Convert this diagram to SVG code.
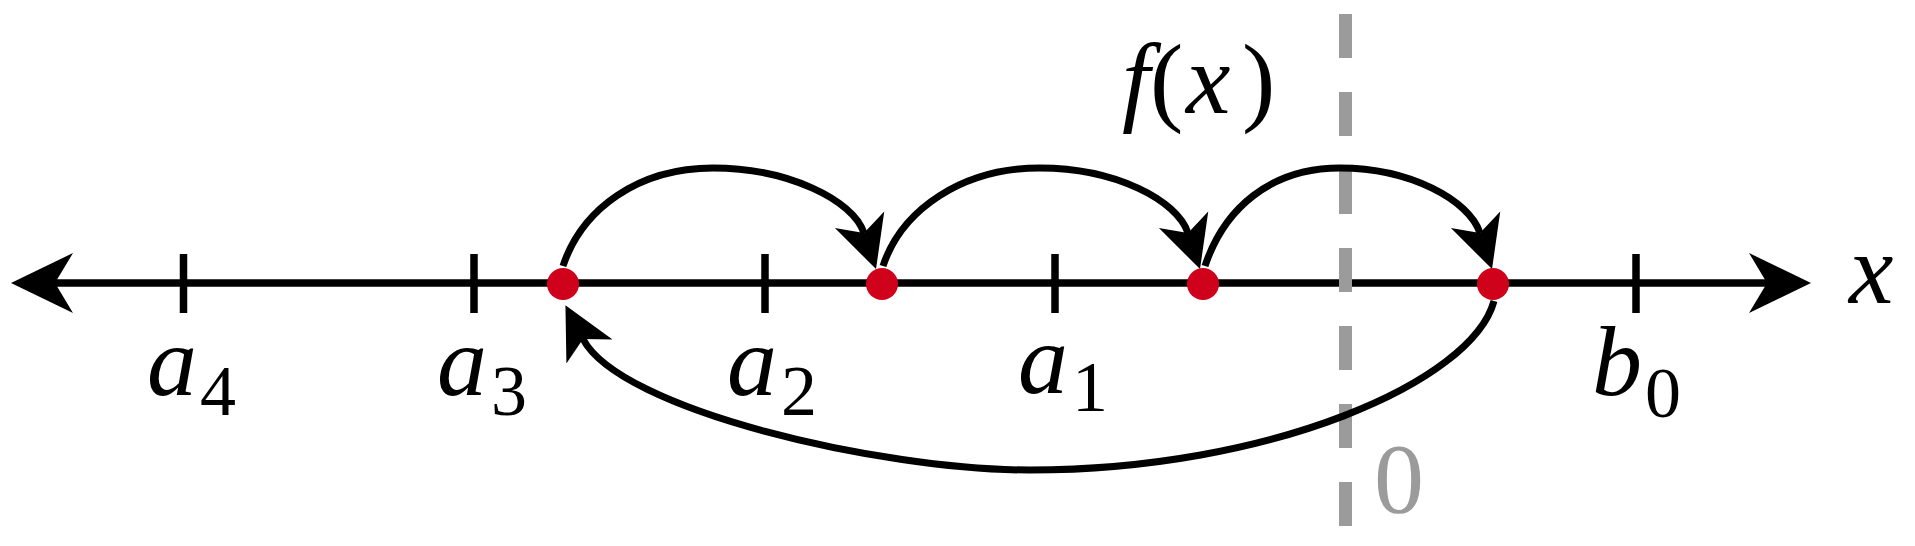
<svg xmlns="http://www.w3.org/2000/svg" width="1915" height="546" viewBox="0 0 1915 546">
<style>
.ax{stroke:#000;stroke-width:7.5;fill:none}
.tk{stroke:#000;stroke-width:7.5}
.cv{stroke:#000;stroke-width:7;fill:none}
.zl{stroke:#9b9b9b;stroke-width:13;stroke-dasharray:44 34}
.dot{fill:#d0011b}
.m{font-family:"Liberation Serif","DejaVu Serif",serif;font-size:100px;font-style:italic;fill:#000}
.s{font-size:72px;font-style:normal}
.r{font-family:"Liberation Serif","DejaVu Serif",serif;font-size:100px;font-style:normal}
</style>
<defs>
<marker id="axh" markerUnits="userSpaceOnUse" viewBox="0 -31 63 62" markerWidth="63" markerHeight="62" refX="18" refY="0" orient="auto-start-reverse"><path d="M62,0 L0,-30 L18,0 L0,30 Z" fill="#000"/></marker>
<marker id="ah" markerUnits="userSpaceOnUse" viewBox="0 -27 53 54" markerWidth="53" markerHeight="54" refX="14" refY="0" orient="auto"><path d="M52,0 L0,-26 L14,0 L0,26 Z" fill="#000"/></marker>
</defs>
<g id="axis">
<path class="ax" d="M55,283 H1767" marker-start="url(#axh)" marker-end="url(#axh)"/>
<line class="tk" x1="183.5" y1="254" x2="183.5" y2="313"/>
<line class="tk" x1="474" y1="254" x2="474" y2="313"/>
<line class="tk" x1="765" y1="254" x2="765" y2="313"/>
<line class="tk" x1="1055" y1="254" x2="1055" y2="313"/>
<line class="tk" x1="1636" y1="254" x2="1636" y2="313"/>
</g>
<g id="zero-line">
<line class="zl" x1="1345.5" y1="14" x2="1345.5" y2="530"/>
</g>
<g id="connectors">
<path class="cv" d="M563,266 C582,209 638,168 713,168 C788,168 853,200 864,233" marker-end="url(#ah)"/>
<path class="cv" d="M883,266 C902,209 963,168 1040,168 C1115,168 1177,200 1188,233" marker-end="url(#ah)"/>
<path class="cv" d="M1205,266 C1224,209 1270,168 1340,168 C1410,168 1469,200 1480,233" marker-end="url(#ah)"/>
<path class="cv" d="M1494,301 C1472,382 1270,470 1030,470 C880,470 620,410 583,339" marker-end="url(#ah)"/>
</g>
<g id="p0"><circle class="dot" cx="563" cy="284" r="16"/></g>
<g id="p1"><circle class="dot" cx="882" cy="284" r="16"/></g>
<g id="p2"><circle class="dot" cx="1203" cy="284" r="16"/></g>
<g id="p3"><circle class="dot" cx="1493" cy="284" r="16"/></g>
<g id="label-a4"><text class="m"><tspan x="147" y="395">a</tspan><tspan class="s" x="200" y="415">4</tspan></text></g>
<g id="label-a3"><text class="m"><tspan x="437" y="395">a</tspan><tspan class="s" x="491" y="415">3</tspan></text></g>
<g id="label-a2"><text class="m"><tspan x="727" y="395">a</tspan><tspan class="s" x="781" y="415">2</tspan></text></g>
<g id="label-a1"><text class="m"><tspan x="1018" y="393">a</tspan><tspan class="s" x="1072" y="411">1</tspan></text></g>
<g id="label-b0"><text class="m"><tspan x="1592" y="395">b</tspan><tspan class="s" x="1645" y="417">0</tspan></text></g>
<g id="label-x"><text class="m" x="1849" y="303">x</text></g>
<g id="label-fx"><text class="m" y="113"><tspan x="1122">f</tspan><tspan x="1150" font-style="normal">(</tspan><tspan x="1186">x</tspan><tspan x="1242" font-style="normal">)</tspan></text></g>
<g id="label-zero"><text class="r" x="1374" y="512" fill="#9b9b9b">0</text></g>
</svg>
